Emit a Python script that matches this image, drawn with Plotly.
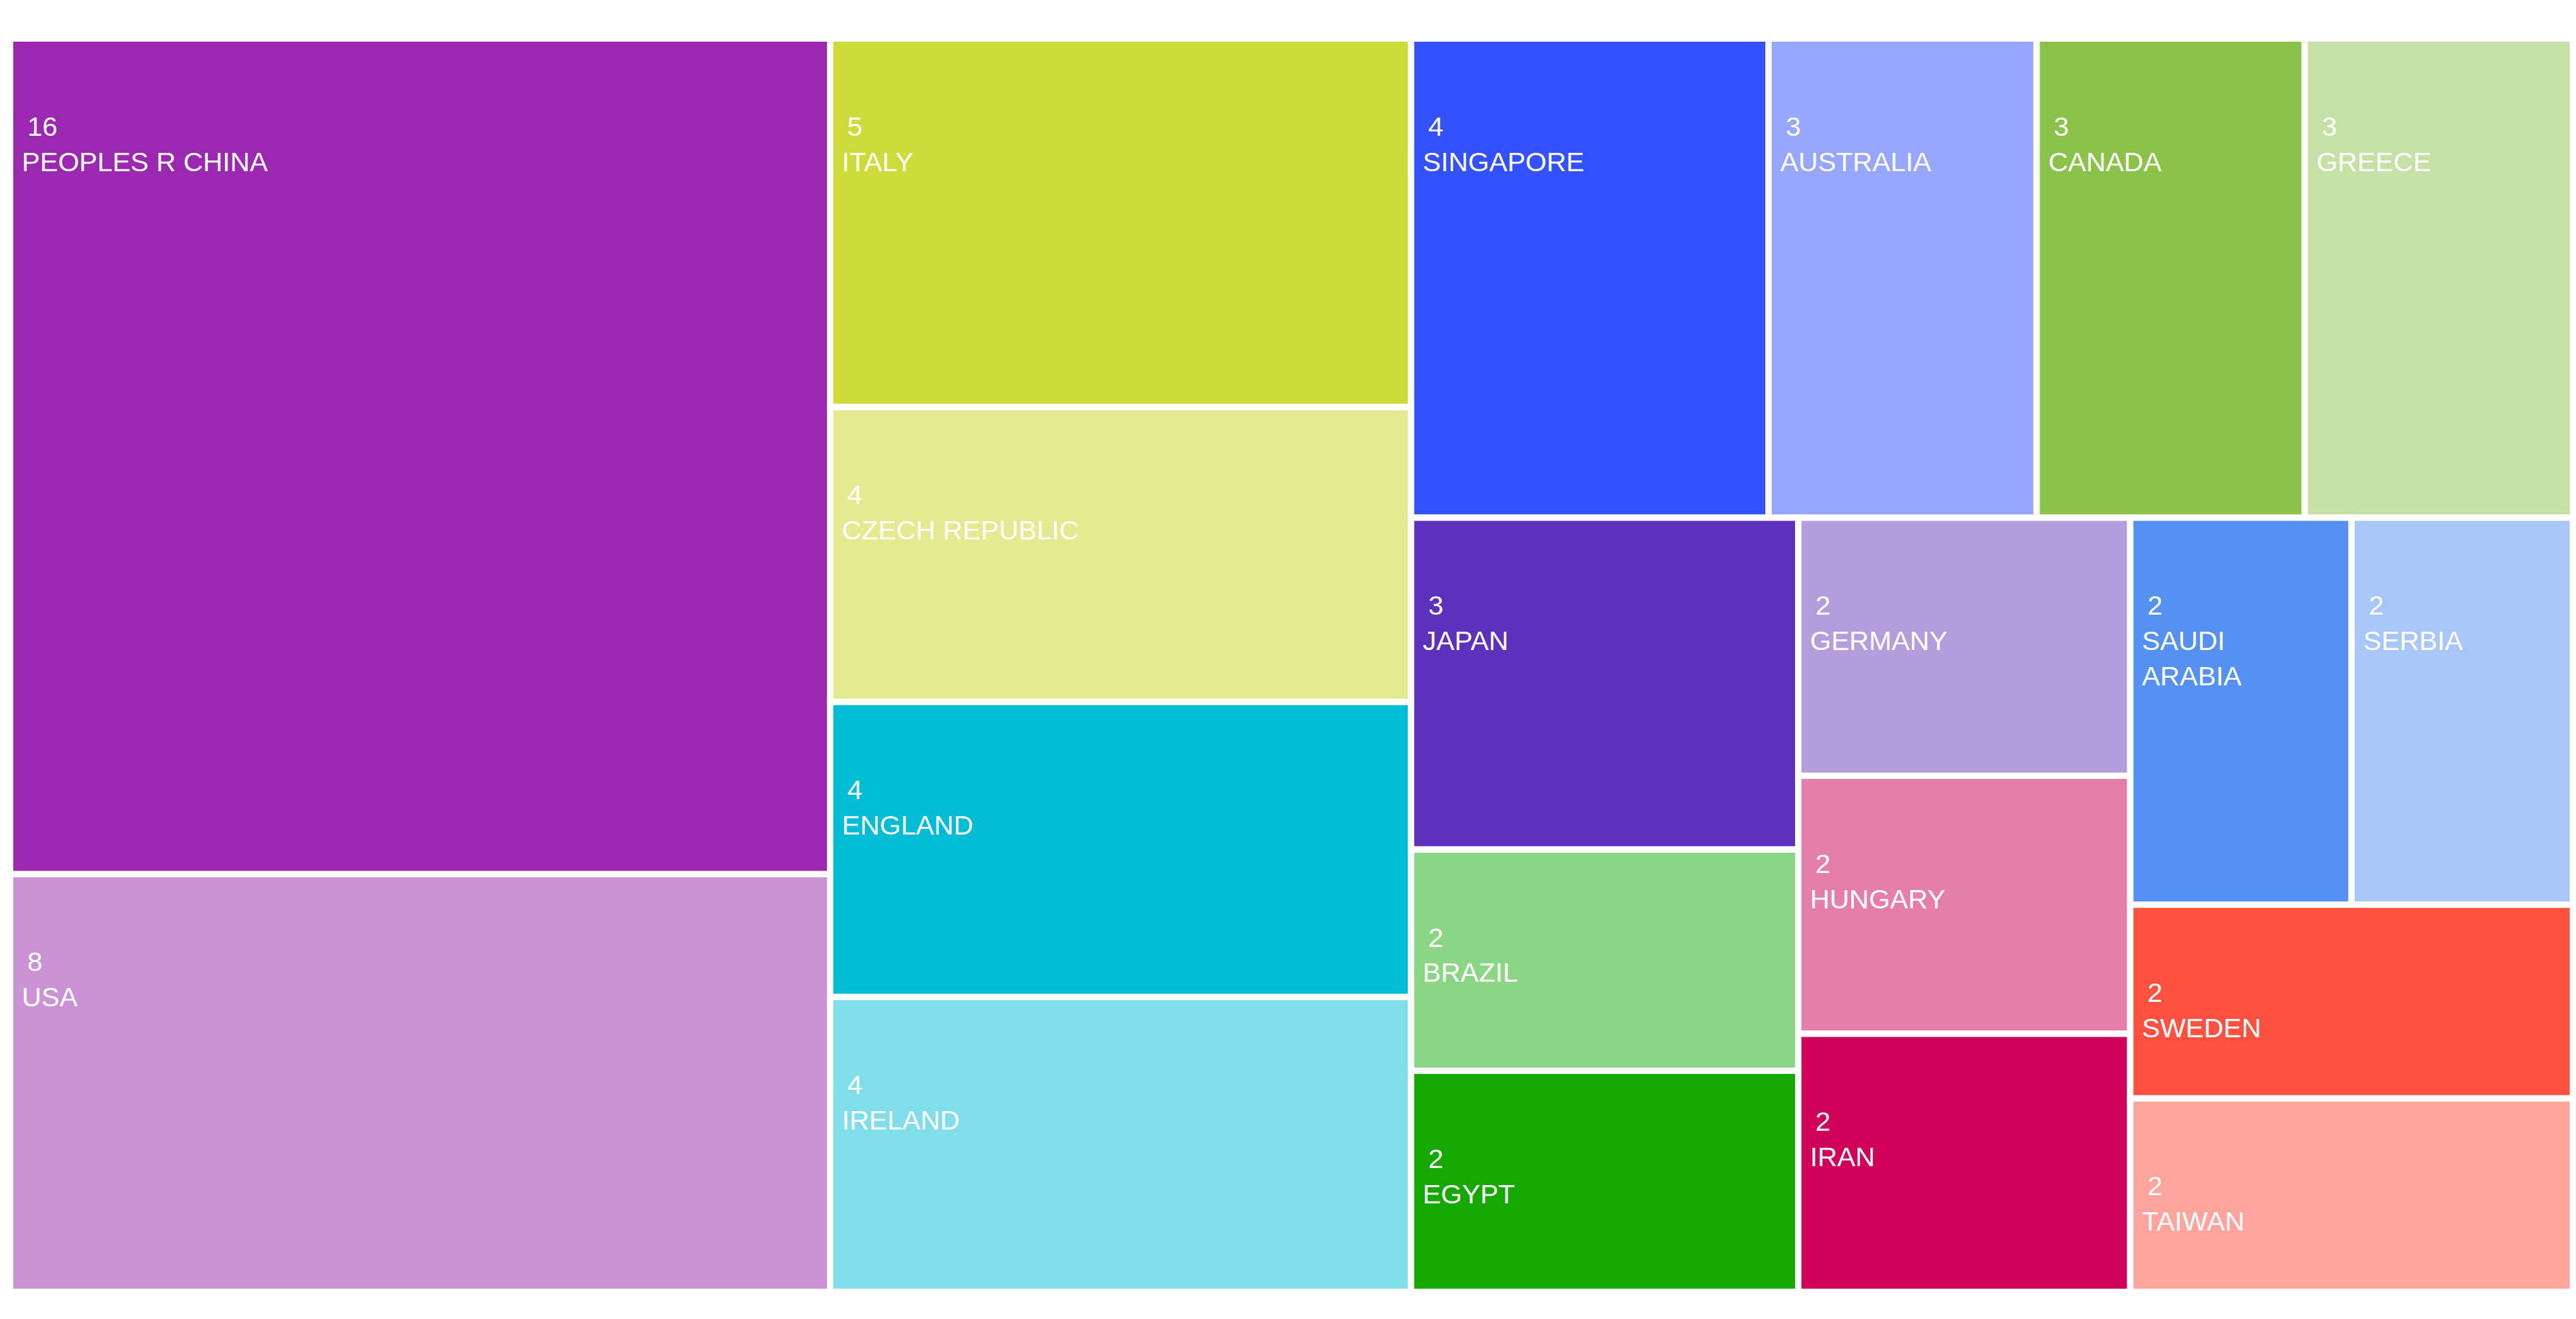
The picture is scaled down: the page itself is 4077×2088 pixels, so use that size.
import plotly.graph_objects as go

countries = ["PEOPLES R CHINA", "USA", "ITALY", "CZECH REPUBLIC", "ENGLAND", "IRELAND",
             "SINGAPORE", "AUSTRALIA", "CANADA", "GREECE", "JAPAN",
             "BRAZIL", "EGYPT", "GERMANY", "HUNGARY", "IRAN", "SAUDI ARABIA",
             "SERBIA", "SWEDEN", "TAIWAN"]
counts = [16, 8, 5, 4, 4, 4, 4, 3, 3, 3, 3, 2, 2, 2, 2, 2, 2, 2, 2, 2]
colors = ["#9C27B0", "#CB92D6", "#CDDC39", "#E3EA90", "#00BCD4", "#80DEEA",
          "#3351FF", "#97A6FF", "#8BC34A", "#C5E1A5", "#5E30BE",
          "#8BD685", "#14A800", "#B39DDB", "#E57FAA", "#D10058", "#5591F3",
          "#A8C6F8", "#FF5040", "#FFA59D"]

NB = "\u00a0"
LEAD = NB + "\u200a"
display_labels = [LEAD + c.replace("SAUDI ARABIA", "SAUDI<br>" + LEAD + "ARABIA") for c in countries]

fig = go.Figure(go.Treemap(
    labels=countries,
    parents=[""] * len(countries),
    values=counts,
    text=display_labels,
    texttemplate=NB + "<br>" + NB + "<br>" + NB + "\u2009\u200a%{value}<br>%{text}",
    textposition="top left",
    textfont=dict(family="Arial, Liberation Sans, sans-serif", size=43, color="#ffffff"),
    marker=dict(colors=colors, line=dict(color="#ffffff", width=10),
                pad=dict(t=0, l=0, r=0, b=0)),
    tiling=dict(packing="squarify", squarifyratio=1.618, pad=0),
    pathbar=dict(visible=False),
    sort=True,
    hoverinfo="label+value",
))

fig.update_layout(
    width=4077, height=2088,
    margin=dict(l=8, r=13, t=53, b=51),
    paper_bgcolor="#ffffff",
    plot_bgcolor="#ffffff",
)

fig.write_html("out.html")
